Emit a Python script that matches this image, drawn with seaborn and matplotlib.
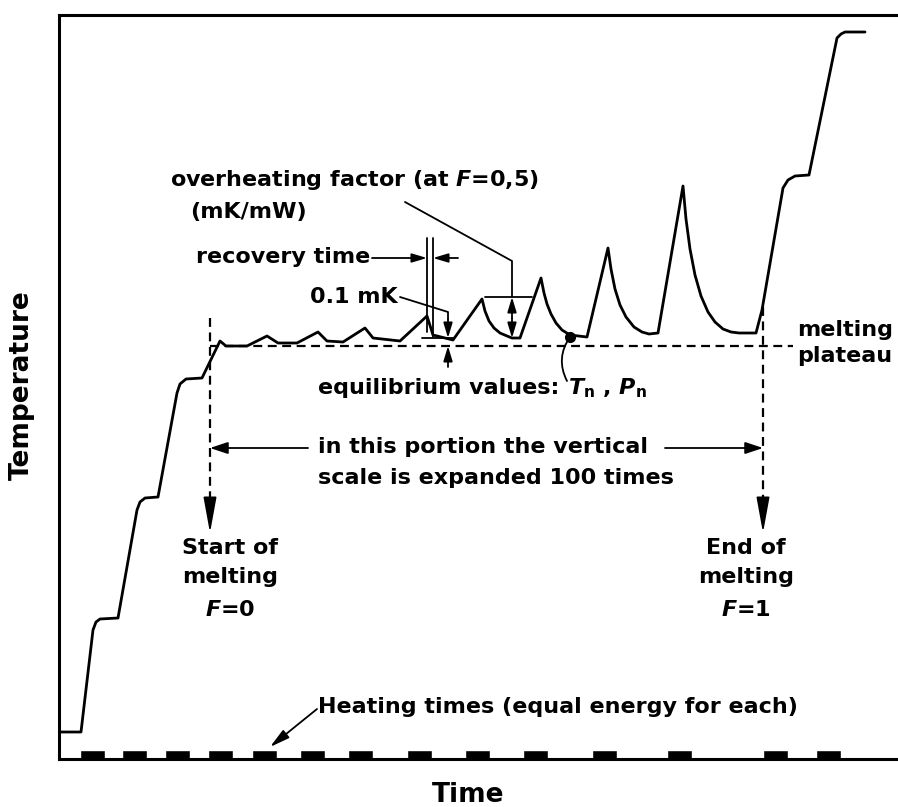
import matplotlib
matplotlib.use("Agg")
import matplotlib.pyplot as plt
import seaborn as sns
import pandas as pd

# temperature trace (time in arbitrary units, temperature in arbitrary units)
time = [0, 22, 34, 37, 41, 59, 78, 81, 86, 99, 118, 121, 127, 143,
        161, 167, 188, 208, 219, 238, 259, 268, 284, 306, 314, 341,
        368, 374, 394,
        423, 426, 430, 435, 441, 448, 453, 461,
        482, 485, 488, 492, 497, 503, 511, 528,
        549, 552, 556, 561, 567, 575, 583, 590, 599,
        624, 627, 631, 636, 642, 649, 656, 664, 672, 680, 697,
        703, 724, 729, 736, 750, 778, 782, 786, 806]
temperature = [27, 27, 129, 137, 140, 141, 249, 257, 261, 262, 366, 375, 380, 381,
               418, 413, 413, 423, 416, 416, 427, 418, 417, 431, 421, 418,
               443, 424, 419,
               460, 448, 438, 431, 426, 423, 421, 421,
               481, 466, 455, 445, 436, 429, 424, 422,
               511, 490, 470, 454, 442, 432, 427, 425, 426,
               573, 540, 510, 484, 463, 447, 437, 430, 427, 426, 426,
               449, 571, 579, 583, 584, 721, 725, 727, 727]

# heating periods
heat_start = [21, 63, 106, 149, 193, 241, 289, 348, 406, 464, 533, 608, 704, 757]
heat_length = 25
heat_height = 9

plateau = 413
start_melt = 151
end_melt = 704

sns.set_style("white")
plt.rcParams["font.family"] = ["DejaVu Sans"]
plt.rcParams["font.weight"] = "bold"
plt.rcParams["text.color"] = "black"
plt.rcParams["mathtext.fontset"] = "custom"
plt.rcParams["mathtext.it"] = "DejaVu Sans:italic:bold"
plt.rcParams["mathtext.rm"] = "DejaVu Sans:bold"

fig = plt.figure(figsize=(8.98, 8.07), dpi=100)
ax = fig.add_axes([59 / 898, 48 / 807, 839 / 898, 744 / 807])

df = pd.DataFrame({"time": time, "temperature": temperature})
sns.lineplot(data=df, x="time", y="temperature", sort=False, estimator=None,
             color="black", lw=2.0, ax=ax)

ax.bar(heat_start, heat_height, width=heat_length, align="edge", color="black")

ax.set_xlim(0, 839)
ax.set_ylim(0, 744)
ax.set_xticks([])
ax.set_yticks([])
ax.set_xlabel("")
ax.set_ylabel("")
for side in ["left", "top", "bottom"]:
    ax.spines[side].set_linewidth(2.2)
    ax.spines[side].set_color("black")
ax.spines["right"].set_visible(False)

dash = (0, (4, 2.5))
thin = dict(color="black", lw=1.3)
fs = 16

# plateau + melting limits
ax.plot([start_melt, 734], [plateau, plateau], ls=dash, color="black", lw=1.6)
ax.plot([start_melt, start_melt], [441, 250], ls=dash, color="black", lw=1.6)
ax.plot([end_melt, end_melt], [452, 250], ls=dash, color="black", lw=1.6)


def arrow(x0, y0, x1, y1, scale=12, style="-|>", hw=0.25, hl=1.0):
    ax.annotate("", xy=(x1, y1), xytext=(x0, y0),
                arrowprops=dict(arrowstyle=f"{style},head_width={hw},head_length={hl}",
                                color="black", lw=1.3, shrinkA=0, shrinkB=0,
                                mutation_scale=scale))


arrow(start_melt, 258, start_melt, 226, scale=20, hw=0.2, hl=1.1)
arrow(end_melt, 258, end_melt, 226, scale=20, hw=0.2, hl=1.1)
arrow(249, 311, start_melt, 311, scale=12, hw=0.3, hl=0.9)
arrow(606, 311, end_melt, 311, scale=12, hw=0.3, hl=0.9)

ax.text(259, 312, "in this portion the vertical", fontsize=fs, va="center")
ax.text(259, 281, "scale is expanded 100 times", fontsize=fs, va="center")

for y, s in zip([211, 182, 149], ["Start of", "melting", "$F$=0"]):
    ax.text(171, y, s, fontsize=fs, ha="center", va="center")
for y, s in zip([211, 182, 149], ["End of", "melting", "$F$=1"]):
    ax.text(687, y, s, fontsize=fs, ha="center", va="center")

ax.text(738, 429, "melting", fontsize=fs, va="center")
ax.text(738, 403, "plateau", fontsize=fs, va="center")

# recovery time
ax.text(311, 502, "recovery time", fontsize=fs, ha="right", va="center")
arrow(313, 501, 368, 501, scale=9, hw=0.3, hl=1.0)
arrow(399, 501, 374, 501, scale=9, hw=0.3, hl=1.0)
ax.plot([368, 368], [521, 427], **thin)
ax.plot([374, 374], [521, 422], **thin)

# 0.1 mK
ax.text(339, 462, "0.1 mK", fontsize=fs, ha="right", va="center")
ax.plot([341, 389, 389], [462, 447, 440], **thin)
arrow(389, 440, 389, 421, scale=9, hw=0.3, hl=1.0)
ax.plot([363, 395], [421, 421], **thin)
arrow(389, 392, 389, plateau, scale=9, hw=0.3, hl=1.0)

# overheating factor
ax.text(111, 579, "overheating factor (at $F$=0,5)", fontsize=fs, va="center")
ax.text(131, 547, "(mK/mW)", fontsize=fs, va="center")
ax.plot([346, 453, 453], [557, 498, 462], **thin)
arrow(453, 441, 453, 462, scale=9, hw=0.3, hl=1.0)
arrow(453, 441, 453, 421, scale=9, hw=0.3, hl=1.0)
ax.plot([426, 473], [462, 462], **thin)

# equilibrium values
ax.text(259, 371, "equilibrium values:", fontsize=fs, va="center")
ax.text(509, 371, r"$T_\mathrm{n}$ , $P_\mathrm{n}$", fontsize=fs, va="center")
ax.annotate("", xy=(511, 422), xytext=(508, 378),
            arrowprops=dict(arrowstyle="-", color="black", lw=1.3,
                            connectionstyle="arc3,rad=-0.3",
                            shrinkA=0, shrinkB=0))
ax.plot([511], [422], "o", color="black", ms=7)

# heating times
ax.text(259, 52, "Heating times (equal energy for each)", fontsize=fs, va="center")
arrow(258, 50, 211, 12, scale=12, hw=0.25, hl=1.0)

fig.text(22 / 898, 1 - 385 / 807, "Temperature", fontsize=19, rotation=90,
         ha="center", va="center")
fig.text(468 / 898, 1 - 795 / 807, "Time", fontsize=19, ha="center", va="center")

fig.savefig("out.png", dpi=100)
